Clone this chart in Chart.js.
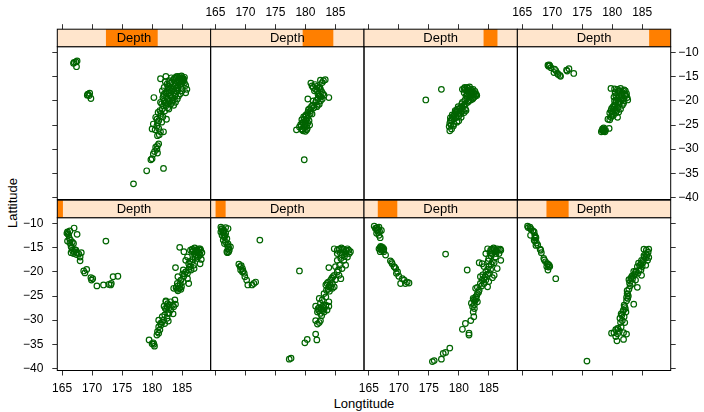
<!DOCTYPE html>
<html><head><meta charset="utf-8">
<script src="https://cdn.jsdelivr.net/npm/chart.js@4"></script>
<style>
html,body{margin:0;padding:0;background:#fff;}
#wrap{position:relative;width:704px;height:412px;overflow:hidden;font-family:'Liberation Sans',Arial,sans-serif;}
#wrap canvas{position:absolute;left:0;top:0;}
.lab{position:absolute;font-size:13px;line-height:13px;color:#000;white-space:nowrap;}
</style></head><body>
<div id="wrap">
  <div class="lab" id="xlab"></div>
  <div class="lab" id="ylab"></div>
</div>
<script>
// ---- data ----
const xTitle = 'Longtitude';
const yTitle = 'Lattitude';
const stripLabel = 'Depth';
const longTicks = [165, 170, 175, 180, 185];
const latTicks = [-10, -15, -20, -25, -30, -35, -40];
const longRange = [164.2, 189.76];
const latRange = [-40.45, -8.75];
const depthRange = [40, 680];
const depthLevels = [[39.5,63.5],[60.5,102.5],[97.5,179],[161.5,254],[243,459],[424,552],[539,597],[590,680]];

const depth1 = [[165.9,-11.7],[166.3,-11.5],[167.0,-10.9],[167.5,-12.2],[165.8,-12.0],[166.1,-12.4],[166.4,-13.4],[166.7,-13.8],[166.3,-14.0],[166.9,-14.1],[165.9,-13.6],[166.5,-14.7],[166.7,-15.5],[167.0,-15.8],[167.3,-15.5],[167.5,-16.0],[166.9,-16.2],[167.1,-15.4],[167.8,-16.3],[168.2,-16.0],[168.0,-16.9],[168.0,-17.7],[168.6,-19.8],[169.1,-19.5],[168.8,-20.2],[169.8,-21.2],[170.1,-21.4],[169.9,-21.7],[170.8,-22.9],[171.9,-22.7],[172.8,-22.6],[173.2,-22.4],[173.5,-21.0],[174.3,-20.9],[173.1,-22.7],[172.3,-13.6],
[184.6,-14.9],[185.3,-15.8],[186.7,-15.3],[187.1,-15.0],[187.5,-15.4],[188.1,-15.5],[187.8,-16.0],[187.0,-16.2],[187.3,-16.5],[187.5,-17.2],[188.2,-17.4],[188.0,-18.3],[186.4,-18.9],[187.0,-19.3],[186.1,-19.6],[185.6,-20.0],[185.2,-19.6],[183.9,-19.1],[185.9,-20.3],[185.3,-20.9],[185.9,-21.4],[184.8,-21.7],[185.2,-22.0],[184.3,-21.0],[186.1,-22.4],[184.9,-23.1],[184.5,-23.4],[184.2,-23.6],[184.6,-23.4],[183.8,-25.8],[183.4,-26.9],[182.3,-26.2],[182.5,-27.2],[182.0,-27.1],[183.1,-27.9],[183.5,-28.7],[182.1,-28.9],[182.5,-29.6],[181.9,-30.0],[181.4,-30.7],[181.1,-30.0],[182.1,-30.7],[180.9,-32.4],[181.1,-32.7],[181.3,-32.0],[180.8,-33.1],[179.5,-34.1],[180.0,-34.9],[180.4,-35.4],[180.2,-34.7],[182.3,-26.0],[183.9,-26.7],[183.6,-27.2],
[186.4,-15.5],[187.3,-15.5],[186.7,-15.8],[185.9,-16.9],[185.6,-17.6],[186.1,-18.3],[186.5,-19.6],[184.2,-22.4],[183.6,-23.4],[183.1,-26.2],[182.8,-28.6],[181.7,-29.3],[181.1,-31.4],
[187.8,-15.2],[187.6,-15.7],[188.0,-16.5],[187.2,-17.0],[186.6,-18.0],[186.9,-18.6],[186.2,-19.0],[185.4,-20.4],[184.7,-22.4],[184.3,-22.9],[184.8,-23.6],[182.6,-26.6],[182.9,-27.4],[182.4,-27.8],[182.6,-28.5],[181.7,-30.4],[181.5,-31.0],[166.2,-13.0],[166.6,-15.0],[167.4,-16.4],[166.5,-16.0],[166.0,-12.1],
[188.0,-15.2],[187.4,-15.9],[186.9,-15.6],[188.3,-16.0],[187.7,-16.8],[186.8,-17.4],[186.3,-17.8],[185.1,-20.4],[184.3,-23.9],[184.0,-23.3],[182.8,-26.9],[182.2,-27.6],[182.7,-30.2],[180.3,-35.0]];

const depth2 = [[165.9,-10.7],[166.1,-11.0],[166.4,-11.4],[166.7,-10.8],[167.1,-11.0],[165.9,-11.7],[166.1,-12.4],[166.4,-12.7],[166.7,-12.0],[166.3,-13.4],[166.7,-13.8],[167.0,-14.5],[167.1,-15.2],[167.3,-15.5],[166.9,-15.8],[167.0,-16.0],[167.5,-14.8],[166.5,-14.1],[168.9,-18.4],[169.1,-18.9],[169.2,-19.6],[169.5,-20.0],[169.8,-20.3],[169.9,-21.0],[170.2,-21.7],[170.4,-22.7],[171.1,-22.7],[171.4,-22.4],[171.7,-22.1],[169.5,-19.3],[172.4,-13.4],[179.0,-19.8],
[184.8,-15.2],[185.3,-15.5],[186.0,-15.0],[186.4,-15.4],[187.0,-15.2],[187.5,-15.8],[186.7,-16.2],[186.1,-16.5],[187.0,-16.9],[185.3,-17.6],[185.9,-17.2],[183.9,-19.1],[186.7,-18.6],[186.1,-19.3],[185.3,-20.0],[184.8,-20.7],[185.6,-20.7],[185.9,-21.4],[185.0,-21.6],[184.2,-21.7],[183.6,-22.4],[183.4,-22.7],[183.9,-23.1],[184.5,-23.4],[184.8,-23.1],[183.5,-23.8],[183.1,-24.5],[182.3,-25.5],[182.8,-25.8],[183.4,-25.2],[183.9,-26.2],[181.7,-27.1],[182.3,-27.4],[182.8,-27.2],[183.4,-26.9],[183.6,-27.9],[182.0,-28.3],[182.5,-28.6],[183.1,-28.3],[183.9,-27.1],[181.7,-30.1],[182.3,-30.5],[182.5,-30.1],[182.0,-30.8],[181.7,-32.9],[181.9,-34.1],[179.9,-34.7],[180.3,-34.0],[177.3,-38.1],[177.6,-37.9],
[185.3,-16.2],[187.3,-16.2],[186.4,-17.6],[185.0,-18.9],[184.5,-22.4],[182.5,-26.5],[183.1,-27.6],
[166.0,-11.2],[166.3,-11.9],[166.5,-12.3],[166.9,-13.1],[167.1,-14.2],[167.2,-15.8],[169.3,-18.7],[169.6,-19.8],[186.8,-15.6],[186.2,-15.3],[185.8,-16.0],[186.5,-16.8],[185.7,-18.6],[185.5,-19.6],[184.4,-21.3],[184.2,-23.2],[183.8,-23.6],[184.0,-24.0],[182.6,-27.8],[182.9,-28.0],[182.2,-28.0],
[186.3,-15.8],[187.2,-15.5],[185.6,-15.3],[184.6,-21.0],[183.8,-22.1],[184.1,-22.7],[183.0,-27.0],[182.1,-27.6],[182.7,-29.1],[166.2,-11.5],[166.6,-12.6],[167.2,-14.9]];

const depth3 = [[165.9,-10.5],[166.1,-11.0],[166.4,-11.4],[166.7,-10.7],[167.1,-11.4],[166.3,-12.0],[166.7,-12.4],[166.9,-12.9],[167.0,-14.7],[167.3,-14.9],[167.5,-15.2],[166.7,-15.2],[167.1,-15.5],[167.5,-15.8],[167.8,-16.5],[168.6,-17.7],[168.9,-18.3],[169.2,-18.9],[169.5,-19.3],[169.8,-20.0],[169.6,-20.3],[170.0,-20.9],[170.6,-21.4],[170.9,-21.7],[171.4,-22.1],[171.7,-22.3],[170.3,-22.4],[171.1,-22.4],[166.9,-15.8],[177.8,-16.3],[181.4,-19.6],
[184.8,-15.2],[185.3,-15.5],[185.9,-15.4],[186.4,-15.2],[187.0,-15.5],[186.1,-15.8],[185.6,-16.2],[186.7,-16.2],[186.1,-16.9],[187.0,-17.6],[185.6,-17.9],[183.4,-18.1],[183.9,-18.3],[185.0,-18.9],[185.3,-19.5],[186.4,-19.3],[184.5,-20.0],[184.8,-20.5],[185.9,-20.7],[185.6,-21.2],[184.2,-21.4],[183.9,-21.7],[185.0,-22.0],[184.2,-22.4],[184.8,-23.1],[183.1,-23.2],[183.4,-23.8],[183.1,-24.5],[182.8,-25.2],[182.5,-25.8],[183.1,-26.2],[182.3,-27.2],[182.6,-27.6],[182.4,-28.3],[182.5,-29.3],[182.0,-30.1],[181.1,-30.7],[180.6,-31.9],[181.7,-32.7],[181.7,-33.1],[178.5,-35.8],[177.8,-36.7],[177.4,-36.9],[177.1,-38.1],[175.9,-38.4],[175.6,-38.6],
[184.5,-16.2],[185.0,-17.2],[184.2,-18.9],[183.6,-21.0],[182.8,-23.4],[182.4,-25.5],[182.1,-26.5],
[166.2,-10.9],[166.5,-11.2],[166.8,-11.6],[166.9,-14.9],[167.2,-15.1],[167.4,-15.5],[168.8,-18.0],[169.3,-19.0],[185.5,-15.3],[186.6,-15.4],[186.2,-16.2],[185.4,-16.7],[185.9,-18.1],[184.8,-19.5],[185.1,-20.3],[184.4,-21.0],[183.6,-22.4],[183.3,-24.2],[182.9,-25.6],[182.6,-26.8],
[185.8,-15.0],[186.2,-15.6],[186.9,-15.3],[185.2,-16.0],[184.9,-17.7],[185.4,-18.4],[184.0,-20.6],[184.5,-21.7],[183.8,-22.9],[183.0,-24.9],[182.7,-26.0],[166.4,-10.8],[166.6,-11.8],[167.1,-15.0]];

const depth4 = [[165.9,-10.5],[166.3,-10.7],[166.5,-11.2],[167.0,-11.7],[166.4,-12.4],[167.1,-12.4],[167.3,-12.9],[167.0,-13.4],[167.4,-14.0],[167.3,-14.5],[168.1,-15.5],[168.2,-16.0],[168.6,-17.2],[168.9,-17.9],[169.2,-18.3],[169.5,-18.6],[169.6,-18.9],[169.1,-18.9],[169.3,-19.6],[170.6,-21.4],[175.8,-38.5],
[185.3,-15.3],[186.1,-15.3],[185.6,-16.2],[185.4,-16.9],[185.2,-17.6],[186.1,-17.0],[184.8,-18.3],[184.2,-18.9],[184.5,-19.6],[183.9,-20.0],[183.6,-20.7],[183.1,-21.4],[182.8,-21.6],[184.9,-20.7],[184.2,-23.2],[182.8,-23.6],[182.5,-23.9],[182.6,-25.5],[182.4,-26.0],[183.6,-26.7],[182.1,-27.2],[181.9,-27.9],[182.3,-28.3],[181.5,-28.7],[181.3,-29.6],[181.4,-30.5],[182.1,-30.5],[180.9,-31.7],[180.6,-32.0],[180.3,-32.6],[179.9,-32.7],[181.9,-32.6],[182.4,-32.9],[180.8,-34.3],[181.9,-34.0],[180.6,-33.4],[183.4,-22.4],[183.9,-21.7],[184.8,-19.6],[185.6,-18.6],[185.9,-17.6],
[185.0,-18.9],[184.3,-20.3],[183.4,-21.4],[182.5,-24.5],[182.0,-29.3],[181.5,-31.4],
[166.0,-10.8],[166.8,-11.5],[167.2,-12.7],[167.1,-13.6],[168.0,-15.3],[168.7,-17.5],[169.3,-18.4],[186.0,-15.9],[185.8,-16.5],[185.6,-17.1],[185.1,-18.1],[184.6,-18.7],[184.0,-19.9],[183.8,-20.4],[183.2,-21.2],[183.0,-22.9],[182.6,-24.6],[182.7,-25.0],[182.2,-27.6],[181.8,-28.2],[181.7,-30.1],[181.0,-31.8],[181.2,-32.3],
[185.7,-15.5],[185.3,-16.6],[184.9,-17.6],[184.4,-18.2],[183.6,-19.9],[183.3,-20.9],[182.9,-22.3],[182.4,-25.3],[182.0,-26.9],[181.6,-29.0],[180.9,-32.8],[166.4,-11.0],[167.2,-13.0],[167.6,-14.4],[169.4,-19.0]];

const depth5 = [[167.0,-12.0],[167.3,-11.9],[167.5,-11.7],[167.4,-12.9],[166.9,-12.2],[169.3,-18.6],[169.5,-18.9],[169.8,-19.5],[169.2,-18.8],[169.6,-18.4],
[181.4,-15.4],[182.3,-14.9],[183.2,-15.2],[184.2,-14.9],[184.9,-14.8],[185.2,-15.4],[185.3,-15.6],[184.8,-15.8],[184.5,-16.2],[185.4,-16.3],[183.9,-16.7],[183.1,-17.2],[182.0,-17.2],[182.5,-16.5],[181.7,-17.9],[182.8,-18.3],[183.6,-18.3],[184.3,-17.7],[185.0,-17.9],[185.6,-18.3],[183.4,-19.3],[182.5,-19.6],[184.2,-19.6],[182.0,-20.0],[183.1,-20.7],[183.9,-20.3],[182.3,-21.0],[181.7,-21.7],[181.0,-22.4],[181.4,-23.1],[182.4,-23.8],[180.6,-23.4],[180.9,-24.5],[180.2,-24.8],[180.8,-25.2],[180.0,-25.8],[181.1,-25.7],[181.4,-26.4],[181.9,-26.4],[180.9,-27.2],[180.3,-19.3],[181.1,-28.9],[180.8,-30.0],[180.4,-30.5],[180.2,-31.0],[180.9,-30.8],[180.0,-32.0],[179.8,-32.2],[179.1,-34.5],[181.9,-34.0],[176.9,-37.2],
[185.0,-15.5],[184.9,-15.2],[184.6,-15.4],[183.6,-15.5],[182.8,-15.8],[182.3,-18.3],[183.1,-19.0],[181.9,-18.9],[183.6,-17.6],[181.4,-20.3],[182.8,-21.7],[181.1,-24.1],
[183.8,-15.3],[184.4,-15.6],[185.1,-16.0],[184.0,-16.3],[183.3,-16.0],[182.6,-17.0],[183.4,-17.5],[184.1,-18.0],[184.7,-18.5],[183.0,-18.7],[182.4,-19.1],[183.8,-19.0],[182.9,-20.1],[183.5,-19.8],[181.8,-19.3],[182.6,-20.5],[181.9,-21.0],[182.1,-22.1],[181.5,-22.6],[180.8,-23.8],[181.6,-24.4],[180.5,-26.0],[181.2,-27.0],[180.6,-29.6],[180.9,-29.3],[185.4,-15.1],[184.6,-14.9],[185.0,-16.4],[184.3,-16.9],[182.9,-17.7],
[184.0,-15.0],[184.5,-15.2],[185.2,-15.8],[184.7,-16.6],[184.2,-17.3],[183.7,-16.9],[183.0,-16.4],[182.2,-16.0],[182.7,-17.4],[183.2,-18.0],[183.9,-18.6],[184.4,-19.0],[183.3,-20.3],[182.2,-20.4],[181.6,-20.6],[182.6,-21.4],[181.3,-22.0],[181.8,-23.3],[185.6,-16.8],[185.8,-17.6],[184.8,-17.2],[182.0,-18.6],[182.7,-19.9],[183.6,-20.9]];

const depth6 = [[180.9,-16.3],[182.5,-15.7],[183.0,-15.8],[181.3,-17.2],[181.7,-17.6],[182.0,-17.9],[182.5,-17.6],[182.3,-18.9],[180.4,-19.6],[183.9,-19.3],[182.8,-19.6],[181.7,-20.3],[182.3,-20.7],[181.4,-21.4],[182.0,-20.9],[180.9,-22.0],[181.1,-22.7],[180.0,-23.1],[179.8,-23.8],[180.3,-23.6],[179.5,-24.5],[180.0,-24.8],[180.6,-24.1],[179.3,-25.2],[179.8,-25.5],[180.3,-25.7],[178.5,-26.0],[179.6,-26.2],[180.2,-26.0],[179.8,-32.2],[183.1,-18.8],[182.5,-20.0],[181.9,-21.2],[181.5,-17.9],
[181.1,-16.9],[182.1,-18.6],[179.9,-24.3],[180.2,-25.2],[179.5,-25.8],
[181.6,-16.6],[181.9,-17.0],[182.2,-17.3],[182.7,-18.1],[182.9,-18.5],[182.4,-19.0],[182.1,-19.5],[181.8,-19.9],[181.2,-20.9],[180.7,-21.6],[180.4,-22.4],[180.1,-22.9],[179.7,-23.3],[179.4,-23.9],[179.9,-25.0],[179.2,-24.9],[180.5,-23.0],[181.0,-21.2],[182.6,-19.2],[183.3,-15.6],
[180.8,-22.6],[180.1,-24.0],[179.6,-24.6],[180.4,-24.6],[179.0,-25.4],[179.4,-26.0],[180.5,-21.8],[181.3,-20.0],[182.4,-17.2],[182.8,-16.2],[180.7,-25.0],[180.0,-26.3]];

const depth7 = [[177.1,-17.6],[174.5,-19.8],[180.9,-17.4],[181.4,-17.2],[182.0,-17.6],[182.5,-18.3],[182.8,-18.9],[182.3,-19.6],[181.7,-20.0],[181.1,-20.7],[180.8,-21.0],[180.3,-21.4],[179.8,-21.7],[179.5,-22.4],[179.2,-23.1],[178.9,-23.6],[178.6,-24.1],[178.5,-24.6],[178.5,-26.2],[178.8,-25.8],[179.2,-24.8],[180.0,-23.1],[180.6,-22.1],[181.1,-21.7],[180.0,-24.1],[181.4,-18.6],[180.9,-18.3],[181.7,-18.9],[179.6,-22.0],[180.3,-22.7],[180.9,-22.4],[179.1,-25.2],
[181.1,-17.7],[181.9,-18.1],[182.3,-18.6],[181.4,-19.3],[180.6,-20.3],
[181.0,-17.2],[181.6,-17.4],[182.2,-17.9],[182.6,-18.6],[182.9,-18.6],[182.6,-19.2],[182.0,-19.8],[181.5,-20.3],[180.9,-20.9],[180.5,-21.2],[180.1,-21.6],[179.7,-22.3],[179.3,-22.8],[179.0,-23.3],[178.8,-24.0],[179.5,-23.5],[179.9,-22.6],[180.4,-22.0],[181.2,-19.0],[181.6,-17.9],[182.1,-18.3],[180.6,-17.6],
[181.8,-17.1],[182.4,-17.6],[182.7,-18.0],[183.0,-18.9],[182.4,-19.4],[181.9,-19.1],[181.0,-19.9],[180.5,-20.6],[179.9,-21.2],[179.4,-22.0],[178.9,-22.9],[178.6,-23.5],[178.7,-25.0],[178.4,-25.3],[179.7,-24.4],[180.4,-23.4],[181.2,-22.0]];

const depth8 = [[169.3,-12.6],[169.6,-12.7],[169.8,-13.1],[170.4,-13.4],[170.3,-14.1],[170.9,-14.3],[171.4,-14.9],[171.3,-14.7],[172.5,-13.8],[172.8,-13.3],[173.6,-14.3],
[179.8,-17.4],[180.9,-17.6],[181.4,-17.4],[182.0,-17.7],[181.7,-18.3],[182.3,-18.9],[182.5,-19.3],[180.9,-19.5],[181.4,-19.6],[182.0,-20.0],[180.6,-20.3],[181.1,-20.7],[181.7,-20.9],[180.9,-21.4],[179.8,-22.0],[180.3,-21.7],[181.4,-21.7],[180.0,-22.7],[179.8,-23.4],[179.6,-23.9],[179.5,-25.7],[178.5,-26.2],[178.4,-25.8],[178.8,-26.4],[180.9,-23.4],[180.3,-21.0],
[181.1,-17.9],[181.5,-18.8],[180.6,-18.9],[180.8,-22.0],[178.5,-26.0],
[180.4,-17.5],[181.0,-18.1],[181.9,-18.0],[182.1,-18.6],[181.2,-19.0],[180.7,-19.9],[181.6,-19.3],[181.3,-20.3],[180.5,-20.8],[180.1,-21.3],[180.6,-22.5],[180.2,-23.0],[179.6,-22.5],[178.3,-26.1],[178.6,-26.3],[178.7,-25.9],[179.3,-23.8],[181.9,-20.5],[169.5,-12.5],[169.4,-12.8],[170.6,-13.7],[172.4,-13.6],[171.0,-14.5],
[180.5,-18.3],[181.3,-17.9],[182.2,-17.9],[182.4,-18.5],[182.6,-19.8],[181.9,-19.5],[181.0,-20.4],[180.3,-19.2],[180.4,-20.0],[179.9,-21.6],[180.5,-21.9],[181.1,-22.3],[179.9,-23.1],[180.1,-22.2],[178.6,-25.6],[178.2,-26.4],[178.9,-26.1]];

const panels = [depth1, depth2, depth3, depth4, depth5, depth6, depth7, depth8];

// ---- layout / style ----
const FONT = "'Liberation Sans', Arial, Helvetica, sans-serif";
const W = 704, H = 412;
const X0 = 57.3, PW = 153.35, PH = 152.8, STRIP = 17.5;
const ROW_TOP = [46.7, 217.7];
const XH = 40, YWL = 45, YWR = 30;
const fmt = v => (v < 0 ? '\u2212' + Math.abs(v) : String(v));

document.getElementById('xlab').textContent = xTitle;
document.getElementById('ylab').textContent = yTitle;
Object.assign(document.getElementById('xlab').style, {left: '364px', top: '397px', transform: 'translateX(-50%)'});
Object.assign(document.getElementById('ylab').style, {left: '12px', top: '203px', transform: 'translate(-50%,-50%) rotate(-90deg)'});

const panelPlugin = {
  id: 'panel',
  afterDraw(chart, args, opts) {
    const {ctx, chartArea: a} = chart;
    const ds = chart.scales.depth;
    ctx.save();
    ctx.strokeStyle = '#000';
    ctx.lineWidth = 1;
    ctx.strokeRect(a.left, a.top, a.right - a.left, a.bottom - a.top);
    const sy = a.top - STRIP;
    ctx.fillStyle = '#ffe5cc';
    ctx.fillRect(a.left, sy, a.right - a.left, STRIP);
    const x0 = Math.max(a.left, ds.getPixelForValue(opts.level[0]));
    const x1 = Math.min(a.right, ds.getPixelForValue(opts.level[1]));
    ctx.fillStyle = '#ff7f00';
    ctx.fillRect(x0, sy, x1 - x0, STRIP);
    ctx.strokeRect(a.left, sy, a.right - a.left, STRIP);
    ctx.fillStyle = '#000';
    ctx.font = '13px ' + FONT;
    ctx.textAlign = 'center';
    ctx.textBaseline = 'middle';
    ctx.fillText(stripLabel, (a.left + a.right) / 2, sy + STRIP / 2 + 0.5);
    ctx.restore();
  }
};

const wrap = document.getElementById('wrap');
panels.forEach((pts, idx) => {
  const row = idx < 4 ? 1 : 0;
  const col = idx % 4;
  const isTop = row === 0, isLeft = col === 0, isRight = col === 3;
  const hasY = isLeft || isRight;
  const L = X0 + col * PW, R = L + PW, T = ROW_TOP[row], B = T + PH;
  const showXLab = isTop ? (col % 2 === 1) : (col % 2 === 0);
  const showYLab = (isLeft && !isTop) || (isRight && isTop);
  const cv = document.createElement('canvas');
  cv.width = W; cv.height = H;
  wrap.appendChild(cv);
  new Chart(cv, {
    type: 'scatter',
    data: {datasets: [{
      data: pts.map(p => ({x: p[0], y: p[1]})),
      pointStyle: 'circle',
      pointRadius: 2.8,
      pointBorderWidth: 1.2,
      pointBorderColor: '#006400',
      pointBackgroundColor: 'rgba(0,0,0,0)',
      showLine: false
    }]},
    options: {
      responsive: false,
      animation: false,
      devicePixelRatio: 1,
      events: [],
      layout: {padding: {
        left: L - (isLeft ? YWL : 0),
        right: W - R - (isRight ? YWR : 0),
        top: T - (isTop ? XH : 0),
        bottom: H - B - (isTop ? 0 : XH)
      }},
      plugins: {legend: {display: false}, tooltip: {enabled: false}, panel: {level: depthLevels[idx]}},
      scales: {
        x: {
          type: 'linear', position: isTop ? 'top' : 'bottom',
          min: longRange[0], max: longRange[1],
          afterBuildTicks: s => { s.ticks = longTicks.map(v => ({value: v})); },
          afterFit: s => { s.height = XH; },
          grid: {drawOnChartArea: false, drawTicks: true, tickLength: isTop ? STRIP + 5 : 5, color: '#333', lineWidth: 1},
          border: {display: false},
          ticks: {display: showXLab, padding: isTop ? 4.5 : 5.5, color: '#000', font: {family: FONT, size: 12}, maxRotation: 0, autoSkip: false, callback: v => fmt(v)}
        },
        y: {
          type: 'linear', display: hasY, position: isRight ? 'right' : 'left',
          min: latRange[0], max: latRange[1],
          afterBuildTicks: s => { s.ticks = latTicks.map(v => ({value: v})); },
          afterFit: s => { s.width = hasY ? (isRight ? YWR : YWL) : 0; },
          grid: {drawOnChartArea: false, drawTicks: true, tickLength: 5, color: '#333', lineWidth: 1},
          border: {display: false},
          ticks: {display: showYLab, padding: isRight ? 2.5 : 9, color: '#000', font: {family: FONT, size: 12}, autoSkip: false, callback: v => fmt(v)}
        },
        depth: {type: 'linear', axis: 'x', display: false, min: depthRange[0], max: depthRange[1],
          afterFit: s => { s.height = 0; s.width = 0; }}
      }
    },
    plugins: [panelPlugin]
  });
});
</script>
</body></html>
